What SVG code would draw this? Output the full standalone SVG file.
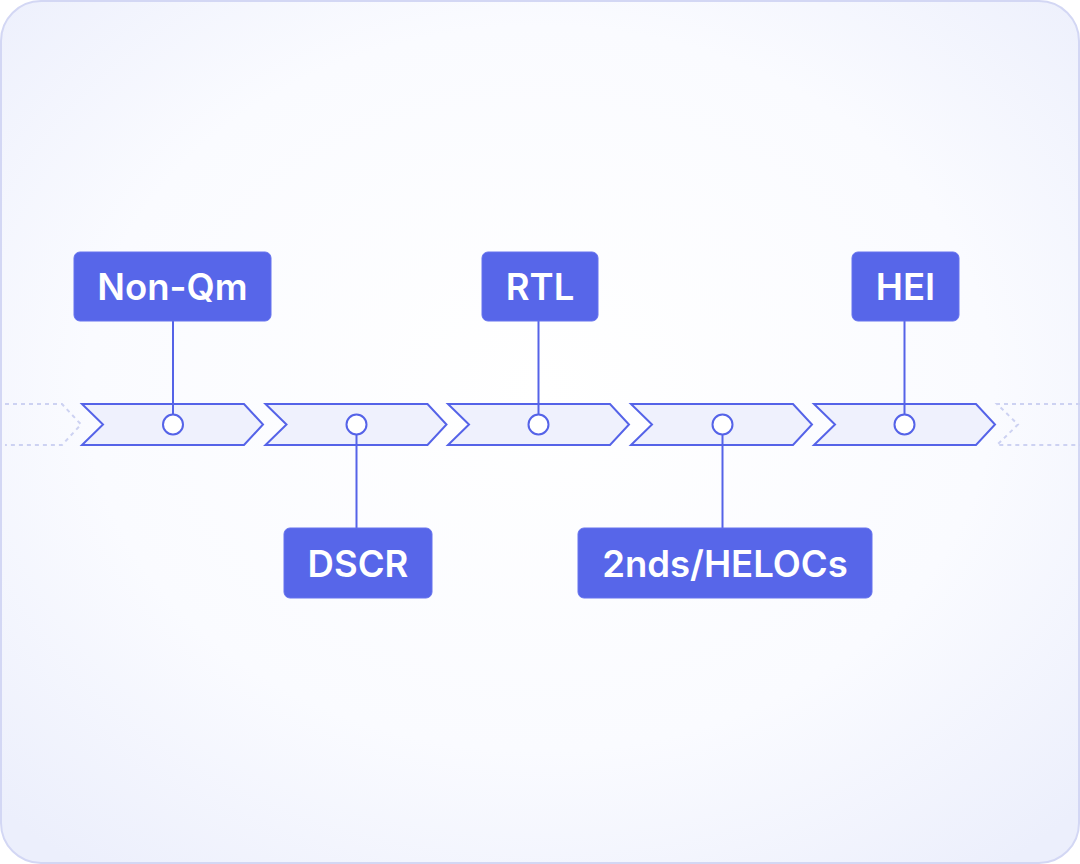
<svg xmlns="http://www.w3.org/2000/svg" width="1080" height="864" viewBox="0 0 1080 864">
<defs>
<radialGradient id="bg" cx="50%" cy="45%" r="70%">
<stop offset="0%" stop-color="#ffffff"/>
<stop offset="60%" stop-color="#fafbff"/>
<stop offset="100%" stop-color="#eceffc"/>
</radialGradient>
<path id="chev" d="M0,0 L162,0 L181,20.5 L162,41 L0,41 L21,20.5 Z"/>
</defs>
<style>
.chev{fill:#eff1fd;stroke:#5563e8;stroke-width:2;stroke-linejoin:miter}
.ghost{fill:none;stroke:#cdd2f2;stroke-width:2;stroke-dasharray:4 4}
.dot{fill:#ffffff;stroke:#5563e8;stroke-width:2}
.box{fill:#5766e9;stroke:#6673ee;stroke-width:1}
.lbl{font-family:Inter,"Liberation Sans",sans-serif;font-weight:600;font-size:36.5px;fill:#ffffff;text-anchor:middle;dominant-baseline:central}
.conn{stroke:#5563e8;stroke-width:2;fill:none}
</style>
<rect x="0" y="0" width="1080" height="864" fill="#ffffff"/>
<rect x="1" y="1" width="1078" height="862" rx="40" fill="url(#bg)" stroke="#d3d7f4" stroke-width="2"/>
<g id="ghosts">
<path class="ghost" d="M5,404 L62,404 L81,424.5 L62,445 L5,445"/>
<path class="ghost" d="M1080,404 L997,404 L1018,424.5 L997,445 L1080,445"/>
</g>
<g id="timeline">
<use href="#chev" class="chev" x="82" y="404"/>
<use href="#chev" class="chev" x="265.5" y="404"/>
<use href="#chev" class="chev" x="448" y="404"/>
<use href="#chev" class="chev" x="631" y="404"/>
<use href="#chev" class="chev" x="814" y="404"/>
</g>
<g id="connectors">
<line class="conn" x1="173" y1="321" x2="173" y2="414"/>
<line class="conn" x1="356.5" y1="435" x2="356.5" y2="528"/>
<line class="conn" x1="538.5" y1="321" x2="538.5" y2="414"/>
<line class="conn" x1="722.5" y1="435" x2="722.5" y2="528"/>
<line class="conn" x1="904.5" y1="321" x2="904.5" y2="414"/>
</g>
<g id="dots">
<circle class="dot" cx="173" cy="424.5" r="10"/>
<circle class="dot" cx="356.5" cy="424.5" r="10"/>
<circle class="dot" cx="538.5" cy="424.5" r="10"/>
<circle class="dot" cx="722.5" cy="424.5" r="10"/>
<circle class="dot" cx="904.5" cy="424.5" r="10"/>
</g>
<g id="node-nonqm">
<rect class="box" x="74" y="252" width="197" height="69" rx="6"/>
<text class="lbl" x="172.5" y="287">Non-Qm</text>
</g>
<g id="node-dscr">
<rect class="box" x="284" y="528" width="148" height="70" rx="6"/>
<text class="lbl" x="358" y="564">DSCR</text>
</g>
<g id="node-rtl">
<rect class="box" x="482" y="252" width="116" height="69" rx="6"/>
<text class="lbl" x="540" y="287">RTL</text>
</g>
<g id="node-helocs">
<rect class="box" x="578" y="528" width="294" height="70" rx="6"/>
<text class="lbl" x="725" y="564">2nds/HELOCs</text>
</g>
<g id="node-hei">
<rect class="box" x="852" y="252" width="107" height="69" rx="6"/>
<text class="lbl" x="905.5" y="287">HEI</text>
</g>
</svg>
